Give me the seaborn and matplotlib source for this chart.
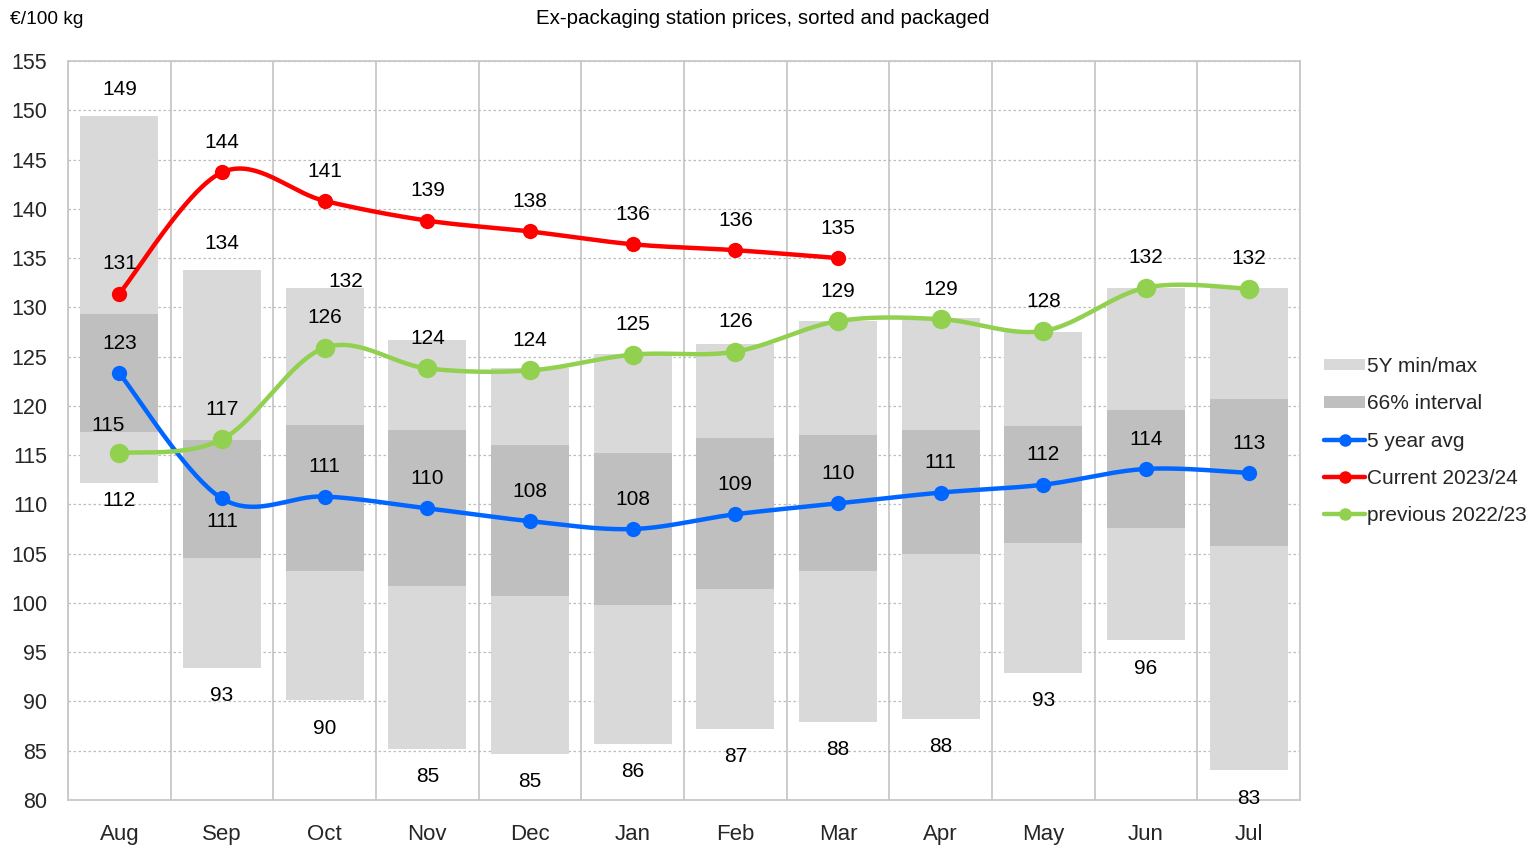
import numpy as np
import pandas as pd
import matplotlib
matplotlib.use("Agg")
import matplotlib.pyplot as plt
from matplotlib.patches import Patch
from matplotlib.lines import Line2D
import seaborn as sns

# ---------------- data ----------------
months = ["Aug", "Sep", "Oct", "Nov", "Dec", "Jan", "Feb", "Mar", "Apr", "May", "Jun", "Jul"]
min5y = [112.2, 93.4, 90.1, 85.2, 84.7, 85.7, 87.2, 87.9, 88.2, 92.9, 96.2, 83.0]
max5y = [149.4, 133.8, 132.0, 126.7, 123.8, 125.3, 126.3, 128.6, 128.9, 127.5, 132.0, 132.0]
q_low = [117.3, 104.6, 103.2, 101.7, 100.7, 99.8, 101.4, 103.2, 105.0, 106.1, 107.6, 105.8]
q_high = [129.3, 116.5, 118.1, 117.5, 116.0, 115.2, 116.7, 117.0, 117.5, 118.0, 119.6, 120.7]
avg5y = [123.3, 110.6, 110.8, 109.6, 108.3, 107.5, 109.0, 110.1, 111.2, 112.0, 113.6, 113.2]
current = [131.4, 143.7, 140.8, 138.8, 137.7, 136.4, 135.8, 135.0]
previous = [115.2, 116.6, 125.9, 123.8, 123.6, 125.2, 125.5, 128.6, 128.8, 127.6, 132.0, 131.9]
max_label_months = ["Aug", "Sep", "Oct"]

# ---------------- style ----------------
sns.set_style("white")
plt.rcParams["font.family"] = ["Liberation Sans", "DejaVu Sans"]
NARROW = ["Liberation Sans Narrow", "Liberation Sans", "DejaVu Sans"]

C_LIGHT = "#D9D9D9"
C_DARK = "#BFBFBF"
C_BLUE = "#0066FF"
C_RED = "#FF0000"
C_GREEN = "#92D050"
GRIDC = "#C8C8C8"

fig = plt.figure(figsize=(15.35, 8.47), dpi=100)
ax = fig.add_axes([68 / 1535, 1 - 800 / 847, (1300 - 68) / 1535, (800 - 61) / 847])

df = pd.DataFrame({"month": months, "min": min5y, "max": max5y,
                   "qlo": q_low, "qhi": q_high})
df["range"] = df["max"] - df["min"]
df["qrange"] = df["qhi"] - df["qlo"]

BW = 0.76
sns.barplot(data=df, x="month", y="range", bottom=df["min"], color=C_LIGHT,
            width=BW, saturation=1, ax=ax, zorder=2, linewidth=0)
sns.barplot(data=df, x="month", y="qrange", bottom=df["qlo"], color=C_DARK,
            width=BW, saturation=1, ax=ax, zorder=3, linewidth=0)


def smooth(y, n=40):
    """Excel-like smoothed line (Catmull-Rom Bezier)."""
    y = np.asarray(y, float)
    x = np.arange(len(y), dtype=float)
    pts = np.column_stack([x, y])
    P = np.vstack([pts[0], pts, pts[-1]])
    out = []
    t = np.linspace(0, 1, n)[:, None]
    for i in range(1, len(P) - 2):
        p0, p3 = P[i], P[i + 1]
        p1 = p0 + (P[i + 1] - P[i - 1]) / 6
        p2 = p3 - (P[i + 2] - P[i]) / 6
        seg = ((1 - t) ** 3) * p0 + 3 * ((1 - t) ** 2) * t * p1 + 3 * (1 - t) * t ** 2 * p2 + t ** 3 * p3
        out.append(seg if i == 1 else seg[1:])
    out = np.vstack(out)
    return out[:, 0], out[:, 1]


series = [(avg5y, C_BLUE, 11, "5 year avg"),
          (current, C_RED, 11, "Current 2023/24"),
          (previous, C_GREEN, 14, "previous 2022/23")]
for vals, col, ms, name in series:
    sx, sy = smooth(vals)
    ax.plot(sx, sy, color=col, lw=3.2, zorder=5, solid_capstyle="round")
    sdf = pd.DataFrame({"x": np.arange(len(vals)), "y": vals})
    sns.scatterplot(data=sdf, x="x", y="y", color=col, s=ms ** 2, ax=ax,
                    zorder=6, linewidth=0, legend=False)

LFS = 15


def lab(x, y, v, dx=0, dy=21.5):
    ax.annotate(f"{round(v):d}", (x, y), xytext=(dx, dy), textcoords="offset points",
                ha="center", va="center", fontsize=LFS, color="black", zorder=8)


for i, v in enumerate(avg5y):
    lab(i, v, v, dy=(-16.5 if months[i] == "Sep" else 21.5))
for i, v in enumerate(current):
    lab(i, v, v)
for i, v in enumerate(previous):
    lab(i, v, v, dx=(-8 if i == 0 else 0), dy=(20 if i == 0 else 21.5))
for i, v in enumerate(max5y):
    if months[i] in max_label_months:
        if months[i] == "Oct":
            lab(i, v, v, dx=15, dy=4.5)
        else:
            lab(i, v, v, dy=19)
for i, v in enumerate(min5y):
    lab(i, v, v, dy=(-12.5 if i == 0 else -20))

# ---------------- axes ----------------
ax.set_ylim(80, 155)
ax.set_xlim(-0.5, len(months) - 0.5)
ax.set_yticks(np.arange(80, 156, 5))
ax.set_xticks(np.arange(len(months)))
ax.set_xticklabels(months)
ax.set_xticks(np.arange(len(months) + 1) - 0.5, minor=True)
ax.set_xlabel("")
ax.set_ylabel("")
ax.grid(False)
ax.yaxis.grid(True, linestyle=(0, (2, 2)), color="#BDBDBD", lw=0.9, zorder=0)
ax.xaxis.grid(True, which="minor", linestyle="-", color=GRIDC, lw=1.3, zorder=0)
ax.set_axisbelow(True)
ax.tick_params(axis="x", which="major", length=0, pad=17, labelsize=16)
ax.tick_params(axis="x", which="minor", length=8, width=1.3, color=GRIDC)
ax.tick_params(axis="y", length=6, width=1.3, color=GRIDC, labelsize=15.5, pad=9)
for lbl in ax.get_xticklabels() + ax.get_yticklabels():
    lbl.set_family(NARROW)
for sname, sp in ax.spines.items():
    sp.set_visible(True)
    sp.set_color(GRIDC)
    sp.set_linewidth(1.3)

# ---------------- texts ----------------
fig.text(763 / 1535, 1 - 19 / 847, "Ex-packaging station prices, sorted and packaged",
         ha="center", va="center", fontsize=14.8, family=NARROW, color="black")
fig.text(10 / 1535, 1 - 19 / 847, "€/100 kg", ha="left", va="center", fontsize=13.8,
         family=NARROW, color="black")

# ---------------- legend ----------------
handles = [
    Patch(facecolor=C_LIGHT, edgecolor="none"),
    Patch(facecolor=C_DARK, edgecolor="none"),
    Line2D([0], [0], color=C_BLUE, lw=3.2, marker="o", ms=8),
    Line2D([0], [0], color=C_RED, lw=3.2, marker="o", ms=8),
    Line2D([0], [0], color=C_GREEN, lw=3.2, marker="o", ms=8),
]
labels = ["5Y min/max", "66% interval", "5 year avg", "Current 2023/24", "previous 2022/23"]
leg = fig.legend(handles, labels, loc="center left", bbox_to_anchor=(1316 / 1535, 1 - 441 / 847),
                 frameon=False, fontsize=15, handlelength=1.95, handleheight=0.45,
                 handletextpad=0.1, labelspacing=0.87, borderaxespad=0)

fig.savefig("out.png", dpi=100)
